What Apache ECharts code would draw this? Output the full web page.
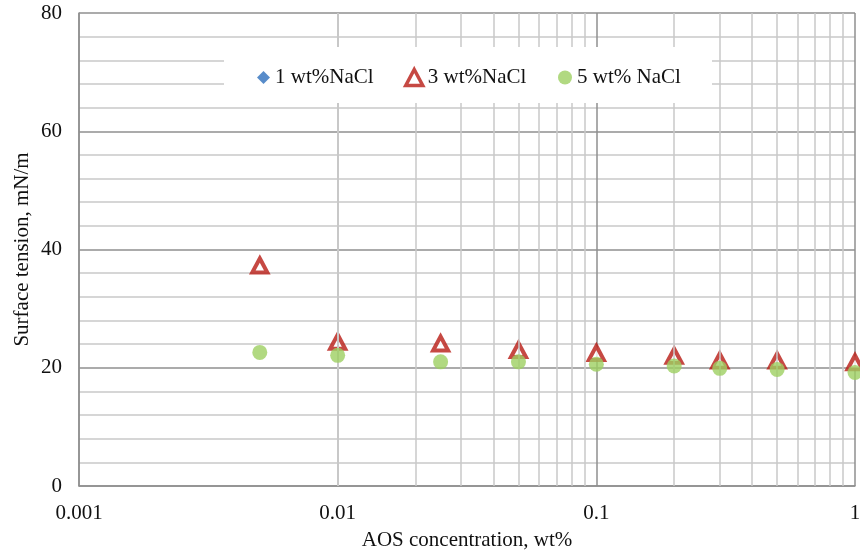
<!DOCTYPE html>
<html>
<head>
<meta charset="utf-8">
<script src="https://cdn.jsdelivr.net/npm/echarts@6/dist/echarts.min.js"></script>
<style>
html,body{margin:0;padding:0;background:#fff;}
#chart{width:860px;height:552px;}
</style>
</head>
<body>
<div id="chart"></div>
<script>
// ---- data ----
const concentrations = [0.005, 0.01, 0.025, 0.05, 0.1, 0.2, 0.3, 0.5, 1];
const nacl1 = []; // 1 wt% NaCl markers not visible in the reference
const nacl3 = [37.3, 24.4, 24.1, 23.0, 22.5, 22.0, 21.2, 21.2, 20.9];
const nacl5 = [22.6, 22.1, 21.0, 21.0, 20.6, 20.3, 19.9, 19.7, 19.2];
const seriesNames = ['1 wt%NaCl', '3 wt%NaCl', '5 wt% NaCl'];
const xTickLabels = ['0.001', '0.01', '0.1', '1'];
const yTicks = [0, 20, 40, 60, 80];
const xMinorGrid = [0.002,0.003,0.004,0.005,0.006,0.007,0.008,0.009,
                    0.02,0.03,0.04,0.05,0.06,0.07,0.08,0.09,
                    0.2,0.3,0.4,0.5,0.6,0.7,0.8,0.9];

const pairs = (xs, ys) => ys.map((y, i) => [xs[i], y]);
const FONT = '"Liberation Serif","Times New Roman",serif';
const TXT = '#111';
const majorColor = '#8f8f8f';
const minorColor = '#c9c9c9';
const RED = '#b81c14', GREEN = '#9ecf62', BLUE = '#2e6fbd';

const legendBase = {
  top: 67, padding: 0, z: 30,
  textStyle: {fontFamily: FONT, fontSize: 21, color: TXT}
};

const chart = echarts.init(document.getElementById('chart'), null, {renderer: 'canvas'});
chart.setOption({
  animation: false,
  backgroundColor: '#fff',
  textStyle: {fontFamily: FONT},
  grid: {left: 79, right: 5, top: 13, bottom: 66, containLabel: false, outerBoundsMode: 'none'},
  graphic: [{
    type: 'rect', left: 224, top: 47, z: 25, silent: true,
    shape: {width: 488, height: 56},
    style: {fill: '#fff'}
  }],
  legend: [
    Object.assign({}, legendBase, {data: [seriesNames[0]], left: 257, itemWidth: 13, itemHeight: 13}),
    Object.assign({}, legendBase, {data: [seriesNames[1]], left: 404, itemWidth: 17, itemHeight: 16,
      itemStyle: {borderWidth: 3.5, borderColor: RED, color: '#fff'}}),
    Object.assign({}, legendBase, {data: [seriesNames[2]], left: 558, itemWidth: 14, itemHeight: 14})
  ],
  xAxis: {
    type: 'log', logBase: 10, min: 0.001, max: 1,
    name: 'AOS concentration, wt%', nameLocation: 'middle', nameGap: 44,
    nameMoveOverlap: false,
    nameTextStyle: {fontFamily: FONT, fontSize: 21, color: TXT},
    axisLine: {show: true, lineStyle: {color: majorColor, width: 1.5}},
    axisTick: {show: false},
    axisLabel: {
      fontFamily: FONT, fontSize: 21, color: TXT, margin: 17,
      formatter: v => xTickLabels[Math.round(Math.log10(v)) + 3]
    },
    splitLine: {show: true, lineStyle: {color: majorColor, width: 1.5}}
  },
  yAxis: {
    type: 'value', min: yTicks[0], max: yTicks[yTicks.length - 1], interval: 20,
    name: 'Surface tension, mN/m', nameLocation: 'middle', nameGap: 46, nameRotate: 90,
    nameMoveOverlap: false,
    nameTextStyle: {fontFamily: FONT, fontSize: 21, color: TXT},
    axisLine: {show: true, lineStyle: {color: majorColor, width: 1.5}},
    axisTick: {show: false},
    axisLabel: {fontFamily: FONT, fontSize: 21, color: TXT, margin: 17},
    splitLine: {show: true, lineStyle: {color: majorColor, width: 1.5}},
    minorTick: {show: false, splitNumber: 5},
    minorSplitLine: {show: true, lineStyle: {color: minorColor, width: 1.5}}
  },
  series: [
    {
      name: 'minor-x-grid', type: 'line', data: [], silent: true, z: 1,
      markLine: {
        silent: true, symbol: 'none', animation: false,
        label: {show: false},
        lineStyle: {color: minorColor, width: 1.5, type: 'solid'},
        data: xMinorGrid.map(v => ({xAxis: v}))
      }
    },
    {
      name: seriesNames[0], type: 'scatter', symbol: 'diamond', symbolSize: 11, z: 3,
      itemStyle: {color: BLUE},
      data: pairs(concentrations, nacl1)
    },
    {
      name: seriesNames[1], type: 'scatter', symbol: 'triangle', symbolSize: [15, 14], z: 4,
      itemStyle: {color: '#ffffff', borderColor: RED, borderWidth: 4},
      data: pairs(concentrations, nacl3)
    },
    {
      name: seriesNames[2], type: 'scatter', symbol: 'circle', symbolSize: 15, z: 5,
      itemStyle: {color: GREEN},
      data: pairs(concentrations, nacl5)
    }
  ]
});
</script>
</body>
</html>
